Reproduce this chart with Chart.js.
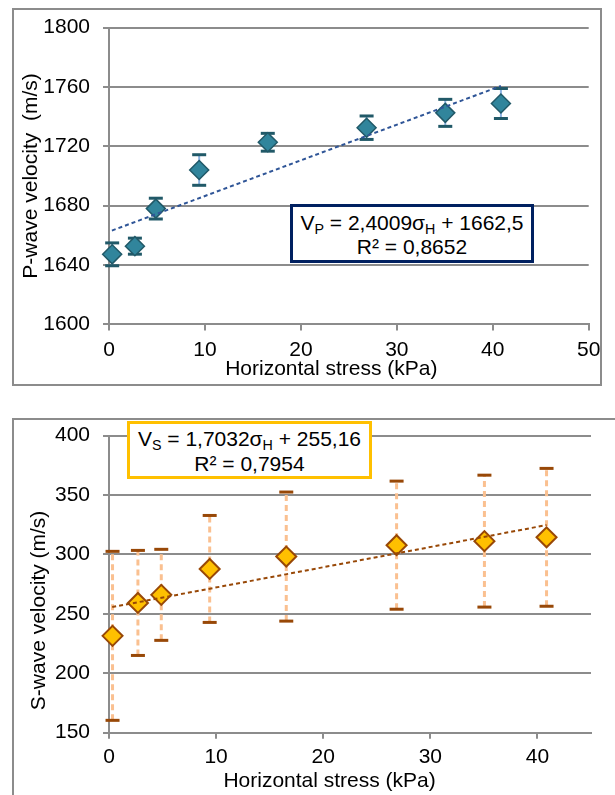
<!DOCTYPE html>
<html>
<head>
<meta charset="utf-8">
<script src="https://cdn.jsdelivr.net/npm/chart.js@4/dist/chart.umd.min.js"></script>
<style>
  html, body { margin: 0; padding: 0; background: #fff; }
  body { width: 615px; height: 795px; position: relative; overflow: hidden;
         font-family: "Liberation Sans", Arial, sans-serif; }
  .frame { position: absolute; border: 2px solid #8c8c8c; box-sizing: border-box; }
  canvas { position: absolute; left: 0; }
  .eq { position: absolute; background: #fff; box-sizing: border-box; text-align: center;
        font-size: 21px; color: #000; white-space: nowrap; }
  .eq sub { font-size: 0.68em; vertical-align: -0.3em; line-height: 0; }
</style>
</head>
<body>
<div class="frame" style="left:12px; top:8px; width:590px; height:378px;"></div>
<div class="frame" style="left:12px; top:418px; width:700px; height:500px;"></div>
<canvas id="vpChart" width="615" height="395" style="top:0;"></canvas>
<canvas id="vsChart" width="615" height="400" style="top:395px;"></canvas>
<div class="eq" style="left:290px; top:204px; width:244px; height:59px; border:3px solid #002060; padding-top:4px; line-height:24px;">
  V<sub>P</sub> = 2,4009σ<sub>H</sub> + 1662,5<br>R² = 0,8652
</div>
<div class="eq" style="left:127px; top:421px; width:245px; height:58px; border:3px solid #ffc000; padding-top:2px; line-height:25px;">
  V<sub>S</sub> = 1,7032σ<sub>H</sub> + 255,16<br>R² = 0,7954
</div>
<script>
// horizontal stress (kPa) at each measurement
const stress = [0.33, 2.7, 4.88, 9.4, 16.55, 26.85, 35.05, 40.85];

// P-wave velocity (m/s) and error half-widths
const vp = [1647.2, 1652.7, 1678, 1704, 1722.7, 1732.5, 1742.5, 1748.8];
const vpErr = [7.7, 5.4, 7, 10.3, 6, 7.9, 9.1, 10.1];

// S-wave velocity (m/s) and error half-widths
const vs = [231.5, 259.2, 266, 287.8, 298.2, 307.8, 311.2, 314.4];
const vsErr = [71.1, 44.2, 38.3, 45, 54.3, 53.9, 55.5, 58];

// linear trend lines, end points as drawn
const trendX = [0.3, 40.85];
const trendVp = [1663.2, 1760.6];
const trendVs = [255.7, 324.7];

// tick values
const xTicksP = [0, 10, 20, 30, 40, 50];
const yTicksP = [1600, 1640, 1680, 1720, 1760, 1800];
const xTicksS = [0, 10, 20, 30, 40];
const yTicksS = [150, 200, 250, 300, 350, 400];
const xMaxS = 45;

Chart.defaults.font.family = '"Liberation Sans", Arial, sans-serif';
Chart.defaults.font.size = 21;
Chart.defaults.color = '#000';

const GRID = '#8c8c8c';

function buildDatasets(vals, errs, trend, c) {
  const segs = [];
  const caps = [];
  stress.forEach((x, i) => {
    segs.push({ x: x, y: vals[i] - errs[i] }, { x: x, y: vals[i] + errs[i] }, { x: x, y: null });
    caps.push({ x: x, y: vals[i] - errs[i] }, { x: x, y: vals[i] + errs[i] });
  });
  return [
    {
      data: trendX.map((x, i) => ({ x: x, y: trend[i] })),
      showLine: true, borderColor: c.trend, borderWidth: 2, borderDash: [4, 3],
      pointRadius: 0, order: 0, clip: false
    },
    {
      data: stress.map((x, i) => ({ x: x, y: vals[i] })),
      pointStyle: 'rectRot', pointRadius: c.markR, pointBackgroundColor: c.fill,
      pointBorderColor: c.edge, pointBorderWidth: c.markW, order: 1, clip: false
    },
    {
      data: caps, pointStyle: 'line', pointRadius: 7, pointBorderWidth: 3,
      pointBorderColor: c.cap, order: 2, clip: false
    },
    {
      data: segs, showLine: true, spanGaps: false, borderColor: c.bar, borderWidth: c.barW,
      borderDash: c.barDash, pointRadius: 0, order: 3, clip: false
    }
  ];
}

function makeChart(id, o) {
  return new Chart(document.getElementById(id), {
    type: 'scatter',
    data: { datasets: buildDatasets(o.vals, o.errs, o.trend, o.colors) },
    options: {
      responsive: false,
      animation: false,
      events: [],
      layout: { padding: o.pad },
      plugins: { legend: { display: false }, tooltip: { enabled: false } },
      scales: {
        x: {
          type: 'linear', min: 0, max: o.xMax,
          afterBuildTicks: s => { s.ticks = o.xTicks.map(v => ({ value: v })); },
          afterFit: s => { s.height = o.xHeight; },
          ticks: { padding: o.xTickPad, maxRotation: 0, callback: v => String(v) },
          grid: { drawOnChartArea: false, tickLength: 6, color: GRID, lineWidth: 2 },
          border: { color: GRID, width: 2 },
          title: { display: true, text: o.xTitle, padding: { top: 0, bottom: o.xTitlePad } }
        },
        y: {
          type: 'linear', min: o.yTicks[0], max: o.yTicks[o.yTicks.length - 1],
          afterBuildTicks: s => { s.ticks = o.yTicks.map(v => ({ value: v })); },
          afterFit: s => { s.width = 109; },
          ticks: { padding: 13, callback: v => String(v) },
          grid: { tickLength: 6, color: GRID, lineWidth: 2 },
          border: { color: GRID, width: 2 },
          title: { display: true, text: o.yTitle, padding: { top: o.yTitlePad, bottom: 0 } }
        }
      }
    }
  });
}

makeChart('vpChart', {
  vals: vp, errs: vpErr, trend: trendVp,
  colors: { trend: '#2f5597', fill: '#31859c', edge: '#215968', markR: 9.5, markW: 1.5,
            cap: '#215968', bar: '#8db3e2', barW: 2, barDash: [] },
  pad: { left: 0, right: 26.3, top: 27.5, bottom: 0 },
  xMax: 50, xTicks: xTicksP, yTicks: yTicksP,
  xHeight: 70.6, xTickPad: 7.7, xTitlePad: 13.4, yTitlePad: 18.9,
  xTitle: 'Horizontal stress (kPa)      ',
  yTitle: 'P-wave velocity  (m/s)'
});

makeChart('vsChart', {
  vals: vs, errs: vsErr, trend: trendVs,
  colors: { trend: '#984807', fill: '#ffc000', edge: '#984807', markR: 10, markW: 2,
            cap: '#984807', bar: '#fac090', barW: 3, barDash: [6, 4] },
  pad: { left: 0, right: 24, top: 40.6, bottom: 0 },
  xMax: xMaxS, xTicks: xTicksS, yTicks: yTicksS,
  xHeight: 62.3, xTickPad: 6.4, xTitlePad: 0.7, yTitlePad: 26.8,
  xTitle: 'Horizontal stress (kPa)       ',
  yTitle: 'S-wave velocity (m/s)         '
});
</script>
</body>
</html>
